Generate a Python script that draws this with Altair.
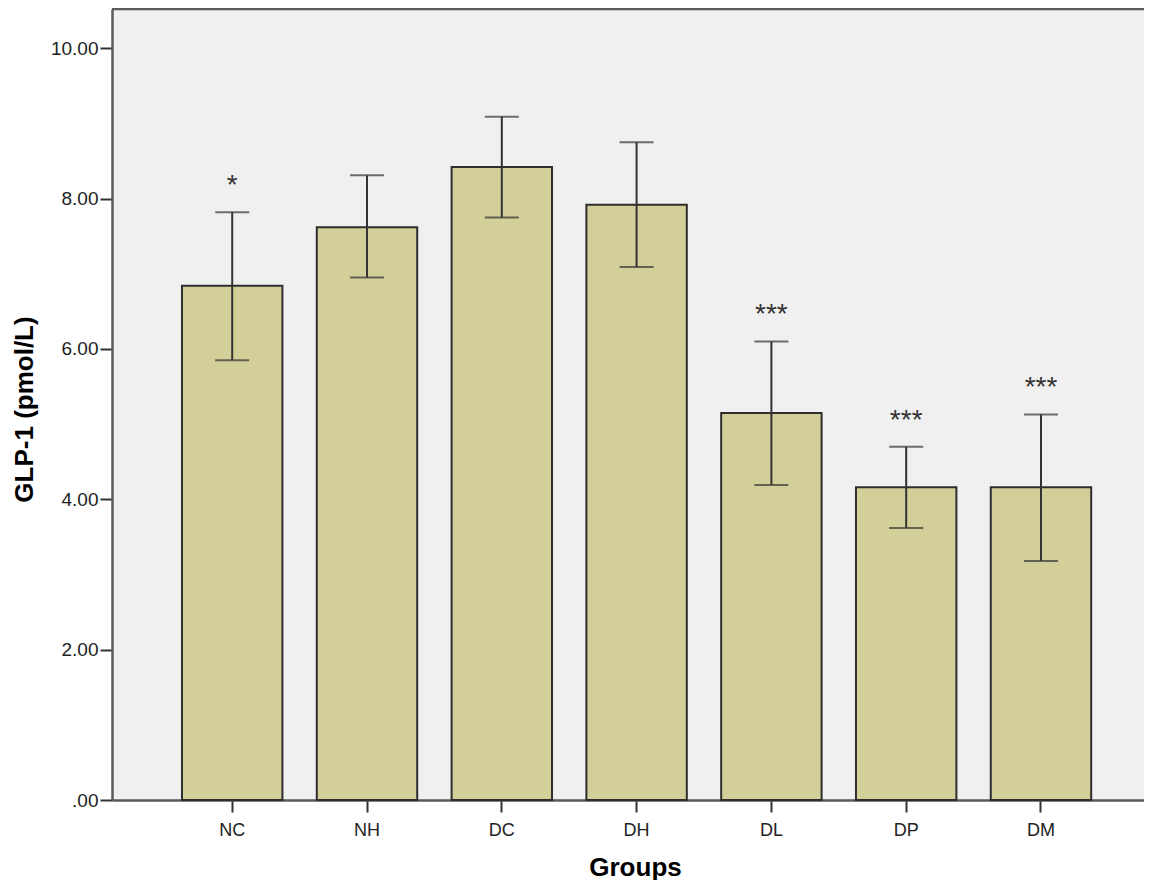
import altair as alt
import pandas as pd

groups = ["NC", "NH", "DC", "DH", "DL", "DP", "DM"]
means = [6.84, 7.62, 8.42, 7.92, 5.15, 4.16, 4.16]
lower = [5.85, 6.95, 7.75, 7.09, 4.19, 3.62, 3.18]
upper = [7.82, 8.31, 9.09, 8.75, 6.10, 4.70, 5.13]
sig = ["*", "", "", "", "***", "***", "***"]
y_ticks = [0, 2, 4, 6, 8, 10]

df = pd.DataFrame({"group": groups, "mean": means, "lower": lower,
                   "upper": upper, "sig": sig})

W, H = 1032, 791
FONT = "Liberation Sans"
YTITLE = "GLP-1 (pmol/L)"

x_scale = alt.Scale(paddingInner=0.255, paddingOuter=0.4555, align=0.57, round=False)
y_scale = alt.Scale(domain=[0, 10.523], nice=False, zero=True)

x_axis = alt.Axis(labelAngle=0, title="Groups", titleX=523, titleY=75,
                  titleBaseline="alphabetic")
y_axis = alt.Axis(values=y_ticks, title=YTITLE, titleX=-80, titleY=400,
                  titleAngle=270, titleBaseline="alphabetic",
                  labelExpr="datum.value == 0 ? '.00' : format(datum.value, '.2f')")

X = alt.X("group:N", sort=groups, scale=x_scale, axis=x_axis)

base = alt.Chart(df)

bars = base.mark_bar(fill="#d3cf98", stroke="#2e2e2e", strokeWidth=2).encode(
    x=X, y=alt.Y("mean:Q", scale=y_scale, axis=y_axis))

whisk = base.mark_rule(color="#333333", strokeWidth=2).encode(
    x=X, y=alt.Y("lower:Q", scale=y_scale, axis=y_axis), y2="upper:Q")

cap_lo = base.mark_tick(color="#333333", thickness=2, size=34).encode(
    x=X, y=alt.Y("lower:Q", scale=y_scale, axis=y_axis))
cap_hi = base.mark_tick(color="#333333", thickness=2, size=34).encode(
    x=X, y=alt.Y("upper:Q", scale=y_scale, axis=y_axis))

stars = base.mark_text(font=FONT, fontSize=28, dy=-18, baseline="alphabetic",
                       color="#333333").encode(
    x=X, y=alt.Y("upper:Q", scale=y_scale, axis=y_axis), text="sig:N")

border = alt.Chart(pd.DataFrame({"a": [0]})).mark_rule(
    color="#5a5a5a", strokeWidth=2.5).encode(
    x=alt.value(0), x2=alt.value(W), y=alt.value(0))

chart = alt.layer(bars, whisk, cap_lo, cap_hi, stars, border).properties(
    width=W, height=H,
    autosize=alt.AutoSizeParams(type="none"),
    padding={"left": 104, "top": 1, "right": 0, "bottom": 80},
    background="white",
).configure_view(
    stroke=None, fill="#f0f0f0"
).configure_axis(
    domainColor="#5a5a5a", domainWidth=2.5,
    tickColor="#333333", tickWidth=2, tickSize=12,
    labelFont=FONT, labelColor="#222222",
    titleFont=FONT, titleFontSize=26, titleFontWeight="bold", titleColor="#000000",
    grid=False,
).configure_axisX(
    labelFontSize=18, labelPadding=9,
).configure_axisY(
    labelFontSize=19, labelPadding=2,
)

chart.save("out.html", embed_options={"renderer": "svg", "actions": False})
